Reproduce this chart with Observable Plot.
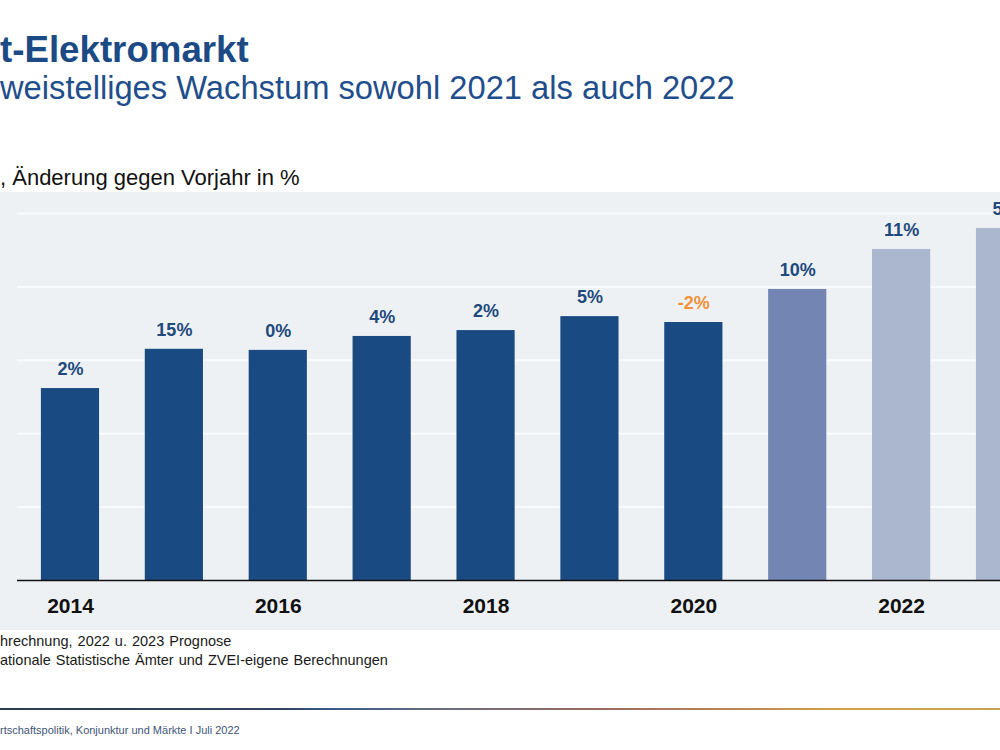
<!DOCTYPE html>
<html>
<head>
<meta charset="utf-8">
<script src="https://cdn.jsdelivr.net/npm/d3@7"></script>
<script src="https://cdn.jsdelivr.net/npm/@observablehq/plot@0.6"></script>
<style>
  html, body { margin: 0; padding: 0; background: #ffffff; }
  body { width: 1000px; height: 750px; position: relative; overflow: hidden;
         font-family: "Liberation Sans", Arial, sans-serif; }
  .abs { position: absolute; left: 0; white-space: nowrap; line-height: 1; }
  #title { top: 32px; font-size: 36.7px; font-weight: bold; color: #1c4a85; }
  #subtitle { top: 72px; font-size: 32.7px; color: #1f4e8c; }
  #ylabel { top: 167px; font-size: 22px; color: #111; }
  #chart { top: 192px; width: 1058px; }
  #chart svg { max-width: none !important; display: block; }
  .note { font-size: 14.5px; color: #1a1a1a; word-spacing: 1px; }
  #note1 { top: 634px; }
  #note2 { top: 653px; }
  #rule { top: 708px; width: 1000px; height: 2px;
          background: linear-gradient(to right, #2e3c52 0%, #33445e 28%, #3a5a8c 33%, #6b6e7c 45%, #9a6a62 60%, #c08a50 75%, #d2a448 85%, #c9a257 100%); }
  #footer { top: 725px; font-size: 11px; color: #3f5577; }
</style>
</head>
<body>
<div id="title" class="abs">t-Elektromarkt</div>
<div id="subtitle" class="abs">weistelliges Wachstum sowohl 2021 als auch 2022</div>
<div id="ylabel" class="abs">, Änderung gegen Vorjahr in %</div>
<div id="chart" class="abs"></div>
<div id="note1" class="abs note">hrechnung, 2022 u. 2023 Prognose</div>
<div id="note2" class="abs note">ationale Statistische Ämter und ZVEI-eigene Berechnungen</div>
<div id="rule" class="abs"></div>
<div id="footer" class="abs">rtschaftspolitik, Konjunktur und Märkte I Juli 2022</div>
<script>
// World electrical market volume (bn EUR) and year-on-year change (%)
const years = [2014, 2015, 2016, 2017, 2018, 2019, 2020, 2021, 2022, 2023];
const volume = [3615, 4150, 4135, 4325, 4405, 4595, 4515, 4965, 5510, 5795];
const growth = [2, 15, 0, 4, 2, 5, -2, 10, 11, 5];
const status = ["Ist", "Ist", "Ist", "Ist", "Ist", "Ist", "Ist", "Hochrechnung", "Prognose", "Prognose"];

// Axis setup
const statusKinds = ["Ist", "Hochrechnung", "Prognose"];
const statusColors = ["#1a4a82", "#7385b3", "#abb6cf"];
const yearTicks = [2014, 2016, 2018, 2020, 2022];
const gridLevels = [2000, 3000, 4000, 5000, 6000];
const baseLevel = 1000;

const rows = years.map((year, i) => ({year, volume: volume[i], growth: growth[i], status: status[i]}));

const labelBlue = "#1f4a7e";
const labelOrange = "#f0923a";

const chart = Plot.plot({
  width: 1058,
  height: 438,
  marginLeft: 17,
  marginRight: 0,
  marginTop: 21,
  marginBottom: 50,
  style: {background: "#eef1f4", fontFamily: "'Liberation Sans', Arial, sans-serif", overflow: "visible", maxWidth: "none"},
  x: {type: "band", domain: years, paddingInner: 0.44, paddingOuter: 0.23, round: false, label: null},
  y: {domain: [baseLevel, 6000], axis: null},
  color: {domain: statusKinds, range: statusColors},
  marks: [
    Plot.ruleY(gridLevels, {stroke: "#fafbfc", strokeWidth: 2}),
    Plot.barY(rows, {x: "year", y1: baseLevel, y2: "volume", fill: "status"}),
    Plot.ruleY([baseLevel], {stroke: "#111111", strokeWidth: 1.5}),
    Plot.text(rows, {filter: d => d.growth >= 0, x: "year", y: "volume", text: d => `${d.growth}%`,
      dy: -19, fontSize: 18, fontWeight: "bold", fill: labelBlue}),
    Plot.text(rows, {filter: d => d.growth < 0, x: "year", y: "volume", text: d => `${d.growth}%`,
      dy: -19, fontSize: 18, fontWeight: "bold", fill: labelOrange}),
    Plot.axisX({ticks: yearTicks, tickFormat: d => String(d), tickSize: 0, tickPadding: 18,
      fontSize: 21, fontWeight: "bold", fill: "#111111", label: null})
  ]
});
document.getElementById("chart").appendChild(chart);
</script>
</body>
</html>
